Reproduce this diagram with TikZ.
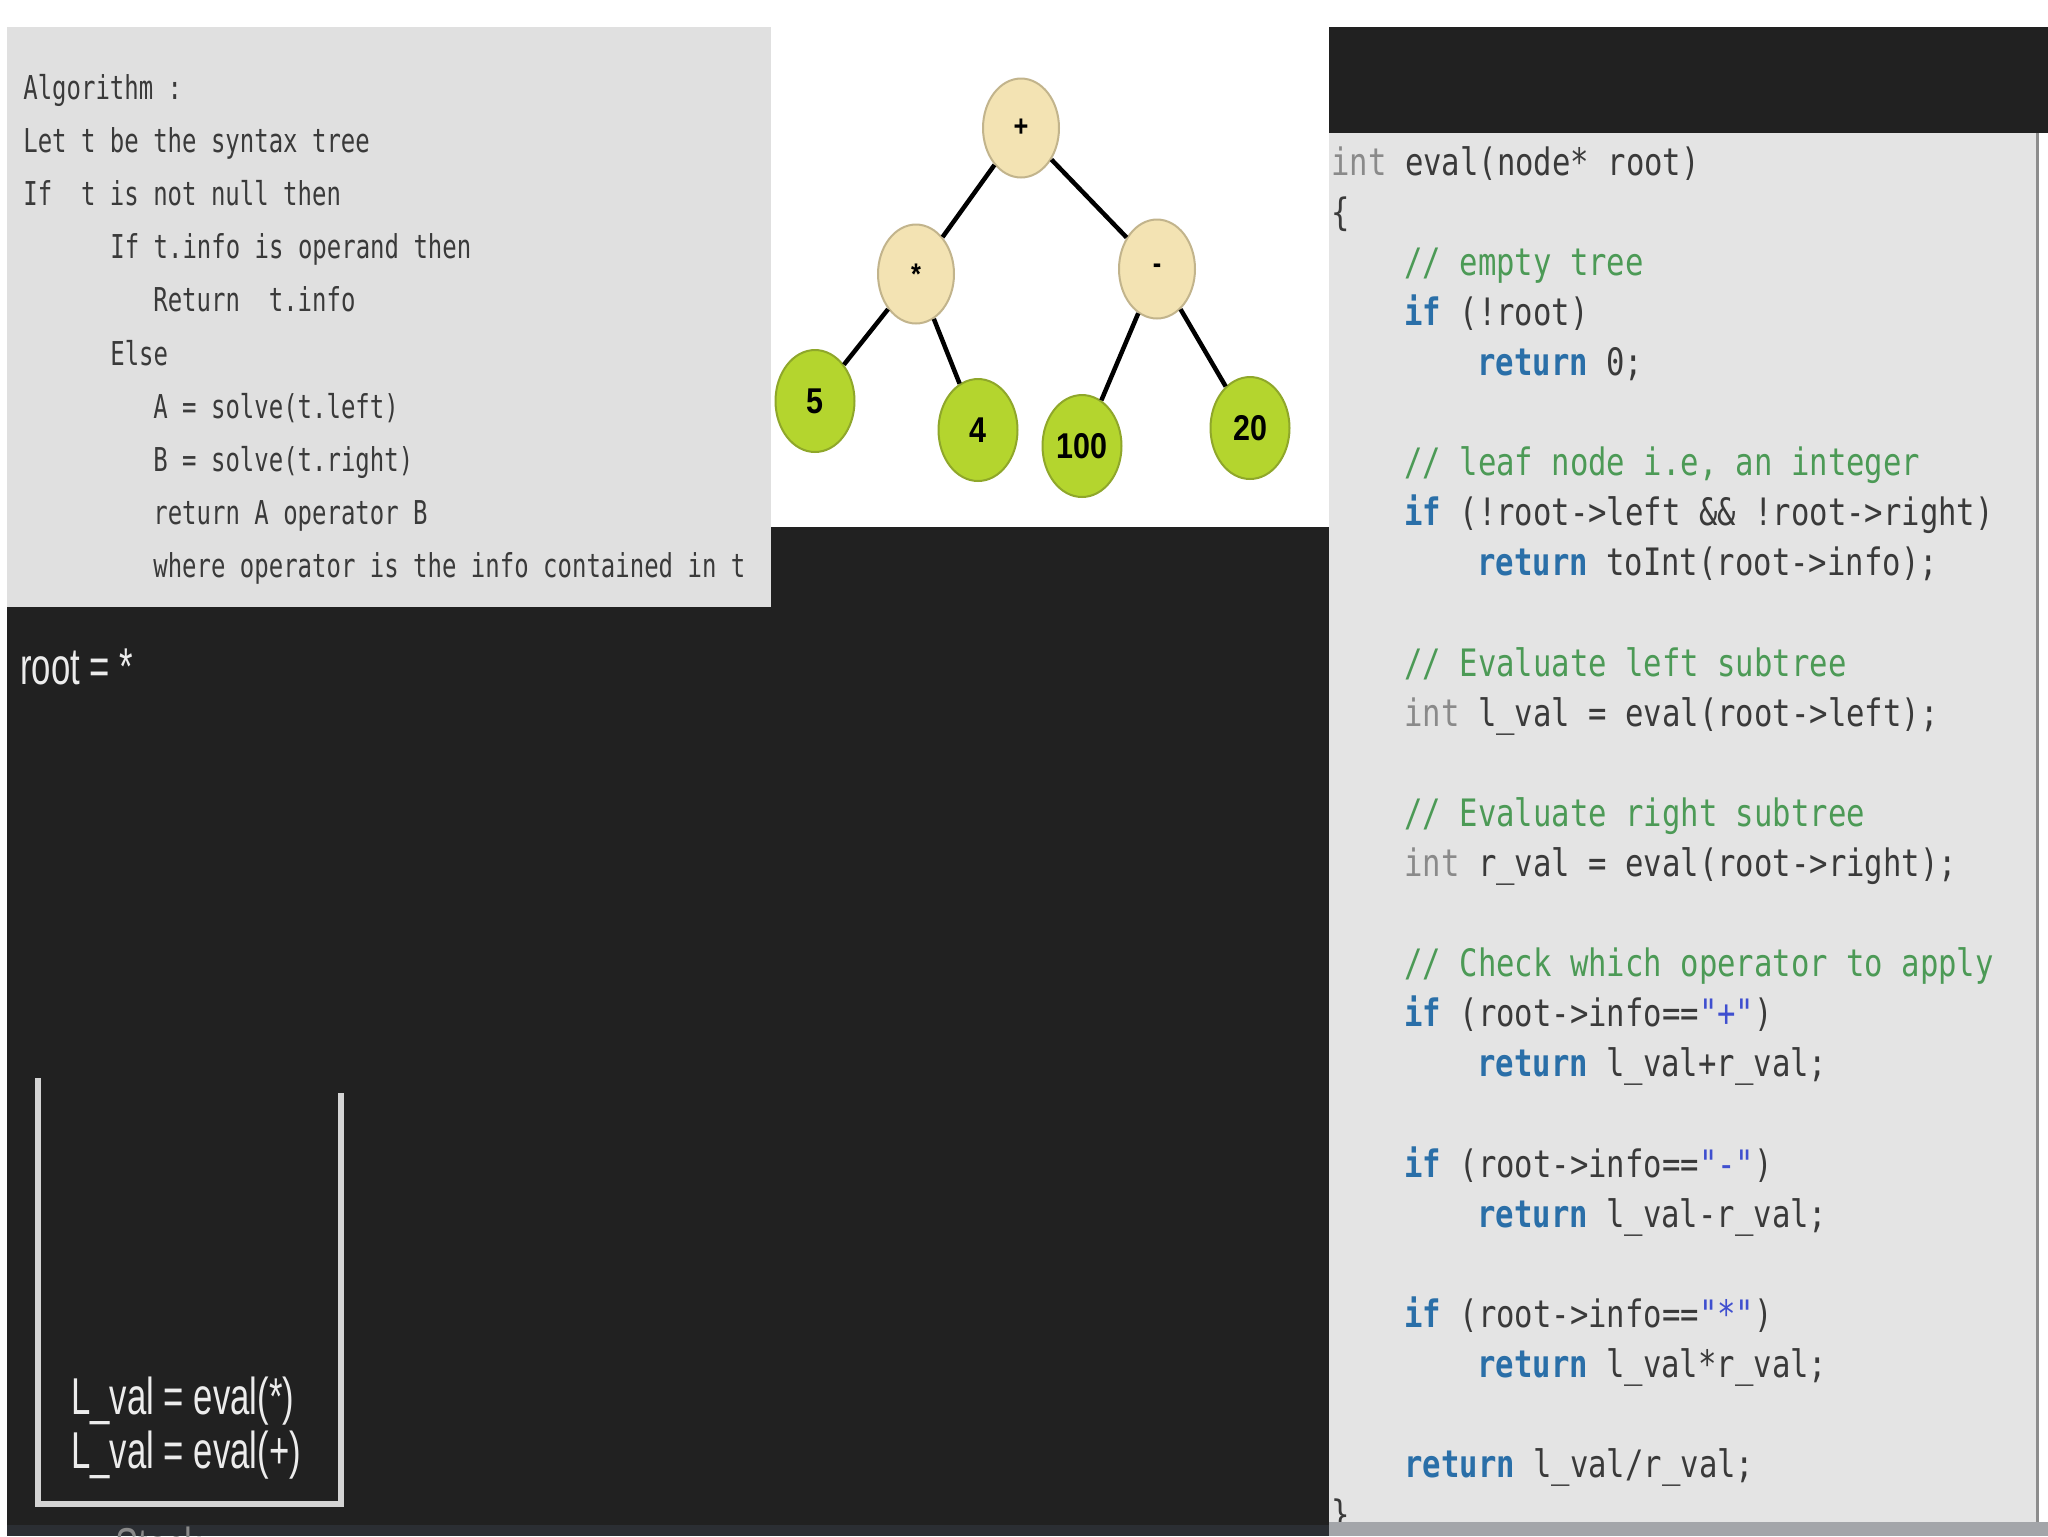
\documentclass[tikz,border=0pt]{standalone}
\usepackage{fontspec}
\usetikzlibrary{shapes.geometric}
\setmainfont{Liberation Sans}
\newfontfamily\algfont[FakeStretch=0.73]{DejaVu Sans Mono}
\newfontfamily\codefont[FakeStretch=0.81]{DejaVu Sans Mono}
\newfontfamily\slidefont[FakeStretch=0.67]{Liberation Sans}
\newfontfamily\treefont[FakeStretch=0.85]{Liberation Sans}

\definecolor{slidedark}{HTML}{212121}
\definecolor{stripdark}{HTML}{2B2E33}
\definecolor{algpanel}{HTML}{E0E0E0}
\definecolor{codepanel}{HTML}{E4E4E4}
\definecolor{codeborder}{HTML}{8C8C8C}
\definecolor{codestrip}{HTML}{A3A5A9}
\definecolor{algtext}{HTML}{3A3A3A}
\definecolor{codetext}{HTML}{3A3A3A}
\definecolor{codeblue}{HTML}{2A6FA8}
\definecolor{codegreen}{HTML}{4C9A56}
\definecolor{codestrblue}{HTML}{3F4FCF}
\definecolor{codegraykw}{HTML}{8A8A8A}
\definecolor{opfill}{HTML}{F3E3B3}
\definecolor{opedge}{HTML}{C2B48C}
\definecolor{leaffill}{HTML}{B4D52E}
\definecolor{leafedge}{HTML}{8FA72A}
\definecolor{stackgray}{HTML}{D4D4D4}
\definecolor{slidewhite}{HTML}{ECECEC}
\definecolor{stacklabel}{HTML}{8A8A8A}

\newcommand\codekw[1]{{\bfseries\color{codeblue}#1}}
\newcommand\codecm[1]{{\color{codegreen}#1}}
\newcommand\codestr[1]{{\color{codestrblue}#1}}
\newcommand\codeint[1]{{\color{codegraykw}#1}}

\tikzset{
  alg line/.style={anchor=base west,inner sep=0pt,text=algtext,font=\algfont\fontsize{18.7}{22}\selectfont},
  code line/.style={anchor=base west,inner sep=0pt,text=codetext,font=\codefont\fontsize{21.5}{26}\selectfont},
  op node/.style={ellipse,fill=opfill,draw=opedge,line width=0.04cm,minimum width=1.52cm,minimum height=1.98cm,inner sep=0pt,font=\treefont\bfseries\fontsize{17}{17}\selectfont},
  leaf node/.style={ellipse,fill=leaffill,draw=leafedge,line width=0.04cm,minimum width=1.58cm,minimum height=2.04cm,inner sep=0pt,font=\treefont\bfseries\fontsize{20.4}{20.4}\selectfont},
  tree edge/.style={draw=black,line width=0.09cm},
  slide text/.style={anchor=base west,inner sep=0pt,text=slidewhite,font=\slidefont\fontsize{29.5}{32}\selectfont},
  stack wall/.style={draw=stackgray,line width=0.12cm}
}

\begin{document}
\begin{tikzpicture}[x=0.02cm,y=-0.02cm]
  \useasboundingbox (0,0) rectangle (2048,1536);
  \clip (0,0) rectangle (2048,1536);

  % panels
  \fill[white] (0,0) rectangle (2048,1536);
  \fill[slidedark] (7,27) rectangle (1329,1536);
  \fill[slidedark] (1329,27) rectangle (2048,133);
  \fill[stripdark] (7,1525) rectangle (1329,1536);
  \fill[algpanel] (7,27) rectangle (771,607);
  \fill[white] (771,27) rectangle (1329,527);
  \fill[codepanel] (1329,133) rectangle (2036,1536);
  \fill[codeborder] (2036,133) rectangle (2039,1536);

  % algorithm
  \node[alg line] (alg0) at (23,99.5) {Algorithm :};
  \node[alg line] (alg1) at (23,152.6) {Let t be the syntax tree};
  \node[alg line] (alg2) at (23,205.7) {If\ \ t is not null then};
  \node[alg line] (alg3) at (110,258.8) {If t.info is operand then};
  \node[alg line] (alg4) at (153,311.9) {Return\ \ t.info};
  \node[alg line] (alg5) at (110,365) {Else};
  \node[alg line] (alg6) at (153,418.1) {A = solve(t.left)};
  \node[alg line] (alg7) at (153,471.2) {B = solve(t.right)};
  \node[alg line] (alg8) at (153,524.3) {return A operator B};
  \node[alg line] (alg9) at (153,577.4) {where operator is the info contained in t};

  % syntax tree
  \node[op node] (plus) at (1021,128) {+};
  \node[op node] (times) at (916,274) {*};
  \node[op node] (minus) at (1157,269) {-};
  \node[leaf node] (five) at (815,401) {5};
  \node[leaf node] (four) at (978,430) {4};
  \node[leaf node] (hundred) at (1082,446) {100};
  \node[leaf node] (twenty) at (1250,428) {20};
  \draw[tree edge] (plus) -- (times);
  \draw[tree edge] (plus) -- (minus);
  \draw[tree edge] (times) -- (five);
  \draw[tree edge] (times) -- (four);
  \draw[tree edge] (minus) -- (hundred);
  \draw[tree edge] (minus) -- (twenty);

  % code
  \node[code line] (code0) at (1331,175) {\codeint{int} eval(node* root)};
  \node[code line] (code1) at (1331,225.1) {\{};
  \node[code line] (code2) at (1404,275.2) {\codecm{// empty tree}};
  \node[code line] (code3) at (1404,325.3) {\codekw{if} (!root)};
  \node[code line] (code4) at (1477,375.4) {\codekw{return} 0;};
  \node[code line] (code6) at (1404,475.6) {\codecm{// leaf node i.e, an integer}};
  \node[code line] (code7) at (1404,525.7) {\codekw{if} (!root->left \&\& !root->right)};
  \node[code line] (code8) at (1477,575.8) {\codekw{return} toInt(root->info);};
  \node[code line] (code10) at (1404,676) {\codecm{// Evaluate left subtree}};
  \node[code line] (code11) at (1404,726.1) {\codeint{int} l\_val = eval(root->left);};
  \node[code line] (code13) at (1404,826.3) {\codecm{// Evaluate right subtree}};
  \node[code line] (code14) at (1404,876.4) {\codeint{int} r\_val = eval(root->right);};
  \node[code line] (code16) at (1404,976.6) {\codecm{// Check which operator to apply}};
  \node[code line] (code17) at (1404,1026.7) {\codekw{if} (root->info==\codestr{"+"})};
  \node[code line] (code18) at (1477,1076.8) {\codekw{return} l\_val+r\_val;};
  \node[code line] (code20) at (1404,1177) {\codekw{if} (root->info==\codestr{"-"})};
  \node[code line] (code21) at (1477,1227.1) {\codekw{return} l\_val-r\_val;};
  \node[code line] (code23) at (1404,1327.3) {\codekw{if} (root->info==\codestr{"*"})};
  \node[code line] (code24) at (1477,1377.4) {\codekw{return} l\_val*r\_val;};
  \node[code line] (code26) at (1404,1477.6) {\codekw{return} l\_val/r\_val;};
  \node[code line] (code27) at (1331,1527.7) {\}};
  \fill[codestrip] (1329,1522) rectangle (2048,1536);

  % stack
  \node[slide text] (rootval) at (20,684) {root = *};
  \coordinate (stack tl) at (38,1078);
  \coordinate (stack bl) at (38,1504);
  \coordinate (stack br) at (341,1504);
  \coordinate (stack tr) at (341,1093);
  \draw[stack wall] (stack tl) -- (stack bl) -- (stack br) -- (stack tr);
  \node[slide text] (frame1) at (71,1414) {L\_val = eval(*)};
  \node[slide text] (frame2) at (71,1468) {L\_val = eval(+)};
  \node[slide text,text=stacklabel,anchor=north west] (stacklbl) at (115,1527) {Stack};
\end{tikzpicture}
\end{document}
